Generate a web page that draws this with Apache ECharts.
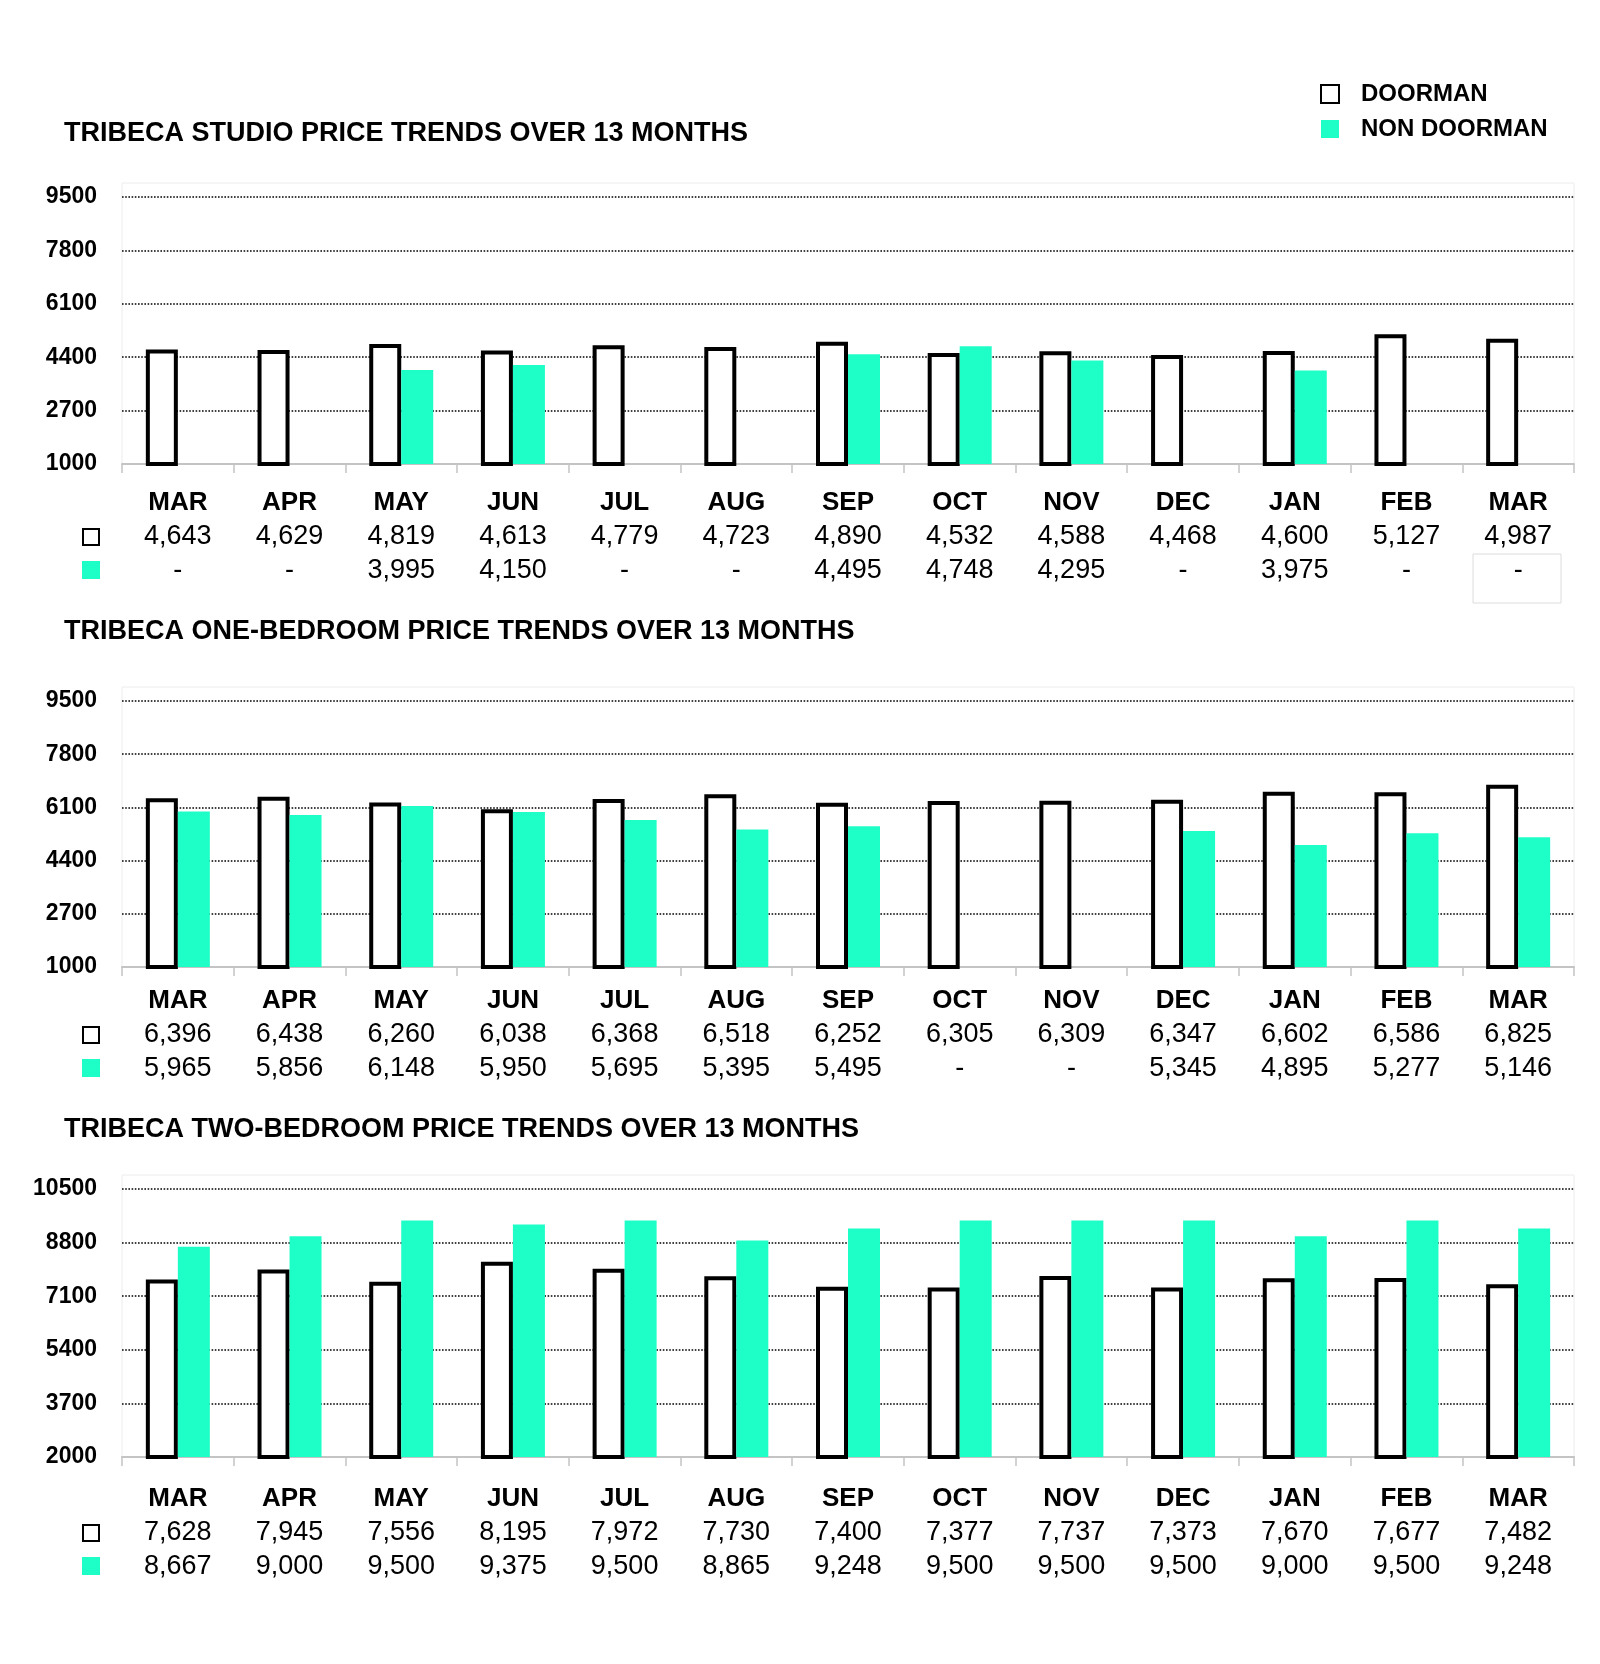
<!DOCTYPE html>
<html><head><meta charset="utf-8">
<script src="https://cdn.jsdelivr.net/npm/echarts@6/dist/echarts.min.js"></script>
<style>html,body{margin:0;padding:0;background:#fff}#c{width:1600px;height:1664px}</style>
</head><body><div id="c"></div>
<script>
const months = ['MAR','APR','MAY','JUN','JUL','AUG','SEP','OCT','NOV','DEC','JAN','FEB','MAR'];
const titles = ['TRIBECA STUDIO PRICE TRENDS OVER 13 MONTHS','TRIBECA ONE-BEDROOM PRICE TRENDS OVER 13 MONTHS','TRIBECA TWO-BEDROOM PRICE TRENDS OVER 13 MONTHS'];
const seriesNames = ['DOORMAN','NON DOORMAN'];
const studioDoorman = [4643,4629,4819,4613,4779,4723,4890,4532,4588,4468,4600,5127,4987];
const studioNonDoorman = [null,null,3995,4150,null,null,4495,4748,4295,null,3975,null,null];
const oneBedDoorman = [6396,6438,6260,6038,6368,6518,6252,6305,6309,6347,6602,6586,6825];
const oneBedNonDoorman = [5965,5856,6148,5950,5695,5395,5495,null,null,5345,4895,5277,5146];
const twoBedDoorman = [7628,7945,7556,8195,7972,7730,7400,7377,7737,7373,7670,7677,7482];
const twoBedNonDoorman = [8667,9000,9500,9375,9500,8865,9248,9500,9500,9500,9000,9500,9248];
const studioTicks = [1000,2700,4400,6100,7800,9500];
const oneBedTicks = [1000,2700,4400,6100,7800,9500];
const twoBedTicks = [2000,3700,5400,7100,8800,10500];

const dataSets = [
  [studioDoorman, studioNonDoorman, studioTicks],
  [oneBedDoorman, oneBedNonDoorman, oneBedTicks],
  [twoBedDoorman, twoBedNonDoorman, twoBedTicks]
];
const layout = [
  {titleY:134, top:197, height:267, margin:22},
  {titleY:632, top:701, height:266, margin:17},
  {titleY:1130, top:1189, height:268, margin:25}
];
const FONT = "'Liberation Sans', Arial, Helvetica, sans-serif";
const TEAL = '#1EFFC8';
const GL = 122, GW = 1452;
const fmt = v => (v === null || v === undefined) ? '-' : v.toLocaleString('en-US');

const option = {
  animation:false,
  backgroundColor:'#fff',
  textStyle:{fontFamily:FONT},
  title:[], grid:[], xAxis:[], yAxis:[], series:[], graphic:[],
  legend:{
    data:[{name:'DOORMAN', icon:'rect', itemStyle:{color:'#fff', borderColor:'#000', borderWidth:2}},{name:'NON DOORMAN', icon:'rect'}],
    orient:'vertical', left:1320, top:82, itemWidth:18, itemHeight:18, itemGap:11, padding:0,
    selectedMode:false,
    textStyle:{fontSize:24, fontWeight:'bold', color:'#000', fontFamily:FONT, padding:[0,0,0,17], lineHeight:24}
  }
};

dataSets.forEach((ds, i) => {
  const [dm, nd, ticks] = ds;
  const L = layout[i];
  option.title.push({
    text:titles[i], left:64, top:L.titleY-16, padding:0,
    textStyle:{fontSize:27, fontWeight:'bold', color:'#000', fontFamily:FONT, lineHeight:32}
  });
  option.grid.push({left:GL, width:GW, top:L.top, height:L.height, containLabel:false});
  option.xAxis.push({
    type:'category', gridIndex:i, data:months,
    axisLine:{lineStyle:{color:'#c4c4c4', width:2}},
    axisTick:{show:true, length:9, lineStyle:{color:'#c4c4c4', width:1.5}},
    axisLabel:{
      interval:0, margin:L.margin,
      formatter:(v, idx) => `{m|${months[idx]}}\n{v|${fmt(dm[idx])}}\n{v|${fmt(nd[idx])}}`,
      rich:{
        m:{fontSize:26, fontWeight:'bold', lineHeight:34, color:'#000', fontFamily:FONT},
        v:{fontSize:27, lineHeight:34, color:'#000', fontFamily:FONT}
      }
    }
  });
  option.yAxis.push({
    type:'value', gridIndex:i,
    min:ticks[0], max:ticks[ticks.length-1], interval:ticks[1]-ticks[0],
    axisLine:{show:false}, axisTick:{show:false},
    axisLabel:{fontSize:23, fontWeight:'bold', color:'#000', margin:25, fontFamily:FONT, formatter:v => String(v)},
    splitLine:{lineStyle:{type:'dotted', color:'#000', width:1.6}}
  });
  option.series.push({
    type:'bar', name:seriesNames[0], xAxisIndex:i, yAxisIndex:i, data:dm,
    barWidth:32, barGap:'0%',
    itemStyle:{color:'#fff', borderColor:'#000', borderWidth:4}
  });
  option.series.push({
    type:'bar', name:seriesNames[1], xAxisIndex:i, yAxisIndex:i, data:nd,
    barWidth:32, barGap:'0%',
    itemStyle:{color:TEAL}
  });
  option.graphic.push({
    type:'rect', z:-1, silent:true,
    shape:{x:GL, y:L.top-14, width:GW, height:L.height+14},
    style:{fill:'none', stroke:'#ececec', lineWidth:1}
  });
  const axisY = L.top + L.height;
  const row1 = axisY + L.margin + 17 + 34;
  const row2 = row1 + 34;
  option.graphic.push({
    type:'rect', silent:true,
    shape:{x:83, y:row1-8, width:16, height:16},
    style:{fill:'#fff', stroke:'#000', lineWidth:2}
  });
  option.graphic.push({
    type:'rect', silent:true,
    shape:{x:82, y:row2-10, width:18, height:18},
    style:{fill:TEAL}
  });
});
option.graphic.push({
  type:'rect', silent:true,
  shape:{x:1473, y:554, width:88, height:49},
  style:{fill:'none', stroke:'#dcdcdc', lineWidth:1}
});

const chart = echarts.init(document.getElementById('c'), null, {renderer:'canvas'});
chart.setOption(option);
</script>
</body></html>
